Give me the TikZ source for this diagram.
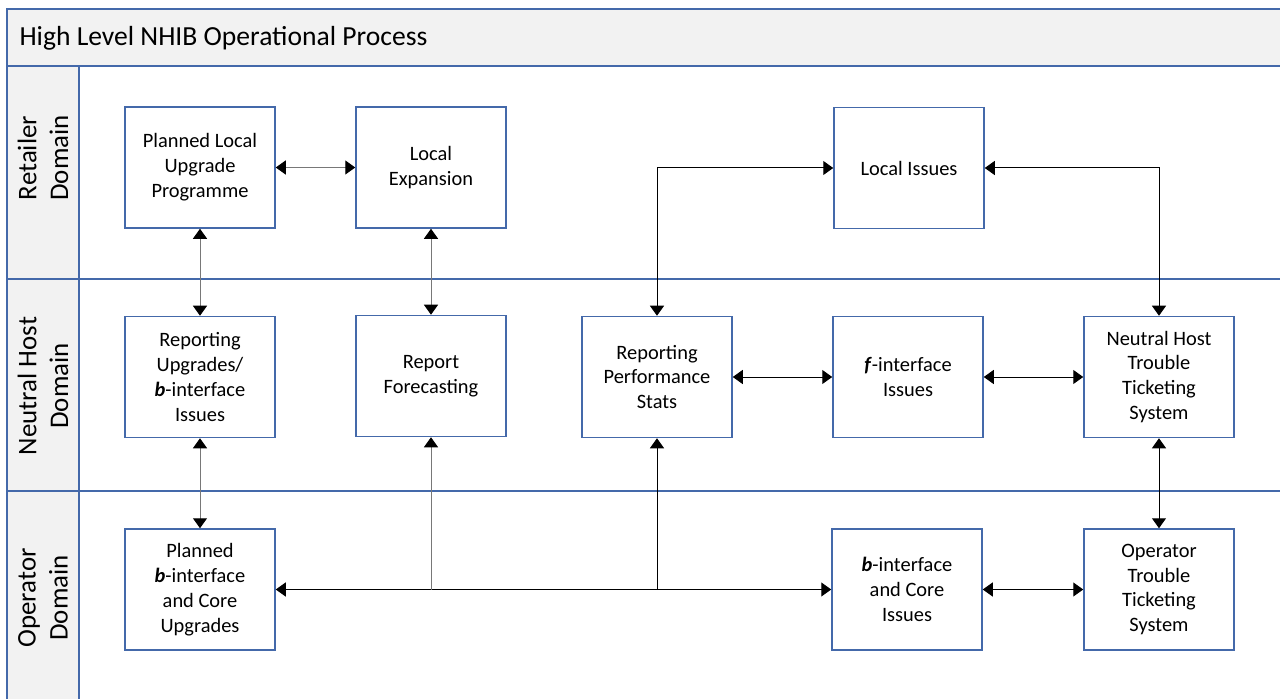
\documentclass[tikz,border=0pt]{standalone}
\usepackage{fontspec}
\setmainfont{Carlito}
\usepackage{tikz}
\usetikzlibrary{arrows.meta}
\definecolor{laneblue}{RGB}{68,105,170}
\definecolor{headgray}{RGB}{242,242,242}
\definecolor{linkgray}{RGB}{120,120,120}

\begin{document}
\begin{tikzpicture}[x=1bp, y=-1bp,
  proc/.style={draw=laneblue, line width=1.5bp, minimum width=150bp, minimum height=121bp,
    inner sep=2bp, align=center, font=\fontsize{20.5}{25}\selectfont},
  lane/.style={draw=laneblue, line width=1.5bp},
  lanelabel/.style={rotate=90, align=center, font=\fontsize{27}{32}\selectfont},
  link/.style={line width=1bp,
    {Triangle[length=10bp,width=14bp,color=black]}-{Triangle[length=10bp,width=14bp,color=black]}},
  uplink/.style={line width=1bp, -{Triangle[length=10bp,width=14bp,color=black]}}
]
\clip (0,0) rectangle (1280,699);
\fill[white] (0,0) rectangle (1280,699);

% frame and lanes
\filldraw[lane, fill=headgray] (7,9) rectangle (1300,66);
\filldraw[lane, fill=headgray] (7,66) rectangle (79,720);
\draw[lane] (7,279) -- (1300,279);
\draw[lane] (7,491) -- (1300,491);
\node[anchor=west, font=\fontsize{27.7}{32}\selectfont] (title) at (16,38) {High Level NHIB Operational Process};
\node[lanelabel] (retailer) at (43,158) {Retailer\\Domain};
\node[lanelabel] (neutral) at (43,386) {Neutral Host\\Domain};
\node[lanelabel] (operator) at (43,598) {Operator\\Domain};

% retailer domain
\node[proc] (plu) at (200,167.5) {Planned Local\\Upgrade\\Programme};
\node[proc] (lexp) at (431,167.5) {Local\\Expansion};
\node[proc] (lis) at (909,168) {Local Issues};

% neutral host domain
\node[proc] (rup) at (200,377) {Reporting\\Upgrades/\\\textbf{\textit{b}}-interface\\Issues};
\node[proc] (rfc) at (431,376) {Report\\Forecasting};
\node[proc] (rps) at (657,377) {Reporting\\Performance\\Stats};
\node[proc] (fis) at (908,377) {\textbf{\textit{f}}-interface\\Issues};
\node[proc] (nhtt) at (1159,377) {Neutral Host\\Trouble\\Ticketing\\System};

% operator domain
\node[proc] (pbc) at (200,589.5) {Planned\\\textbf{\textit{b}}-interface\\and Core\\Upgrades};
\node[proc] (bci) at (907,589.5) {\textbf{\textit{b}}-interface\\and Core\\Issues};
\node[proc] (optt) at (1159,589.5) {Operator\\Trouble\\Ticketing\\System};

% connectors
\draw[link, linkgray] (plu) -- (lexp);
\draw[link, linkgray] (plu) -- (rup);
\draw[link, linkgray] (lexp) -- (rfc);
\draw[link, linkgray] (rup) -- (pbc);
\draw[link] (lis.west) -| (rps.north);
\draw[link] (lis.east) -| (nhtt.north);
\draw[link] (rps) -- (fis);
\draw[link] (fis) -- (nhtt);
\draw[link] (nhtt) -- (optt);
\draw[link] (pbc) -- (bci);
\draw[link] (bci) -- (optt);
\coordinate (jfc) at (rfc.south |- pbc.east);
\coordinate (jps) at (rps.south |- pbc.east);
\draw[uplink, linkgray] (jfc) -- (rfc.south);
\draw[uplink] (jps) -- (rps.south);
\end{tikzpicture}
\end{document}
